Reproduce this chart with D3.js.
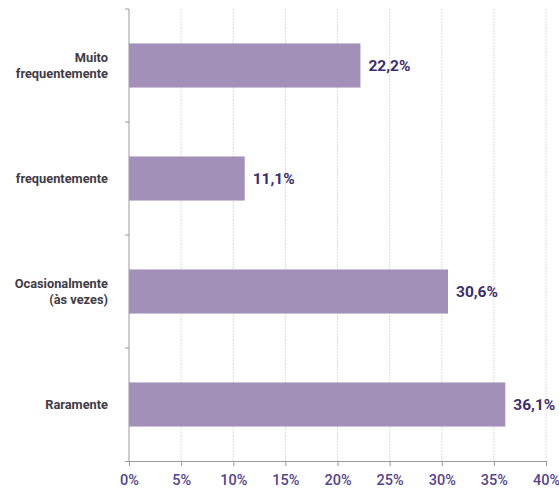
<!DOCTYPE html>
<html>
<head>
<meta charset="utf-8">
<script src="https://cdn.jsdelivr.net/npm/d3@7"></script>
<style>
  body { margin: 0; background: #fff; }
  text { font-family: Roboto, "DejaVu Sans", sans-serif; }
</style>
</head>
<body>
<svg id="chart" width="559" height="491"></svg>
<script>
const categories = [ ["Muito", "frequentemente"], ["frequentemente"], ["Ocasionalmente", "(às vezes)"], ["Raramente"] ];
const values = [ 22.2, 11.1, 30.6, 36.1 ];
const valueLabels = [ "22,2%", "11,1%", "30,6%", "36,1%" ];
const xTicks = [ 0, 5, 10, 15, 20, 25, 30, 35, 40 ];

const margin = { top: 9, left: 129, right: 12, bottom: 30 };
const width = 559, height = 491;

var svg = d3.select( "#chart" );

var x = d3.scaleLinear().domain( [0, 40] ).range( [margin.left, 546] );
var y = d3.scaleBand().domain( d3.range( categories.length ) )
          .range( [margin.top, 461] ).paddingInner( 0.61 ).paddingOuter( 0.305 );

// vertical grid lines
svg.append( "g" ).selectAll( "line" ).data( xTicks.slice(1) ).join( "line" )
   .attr( "x1", d=>x(d) ).attr( "x2", d=>x(d) )
   .attr( "y1", 9 ).attr( "y2", 461 )
   .attr( "stroke", "#dcdae2" ).attr( "stroke-width", 1 )
   .attr( "stroke-dasharray", "2,1" );

// bars
svg.append( "g" ).selectAll( "rect" ).data( values ).join( "rect" )
   .attr( "x", x(0) ).attr( "y", (d,i)=>y(i) )
   .attr( "width", d=>x(d) - x(0) ).attr( "height", y.bandwidth() )
   .attr( "fill", "#a290b9" );

// value labels
svg.append( "g" ).selectAll( "text" ).data( values ).join( "text" )
   .attr( "x", d=>x(d) + 8 ).attr( "y", (d,i)=>y(i) + y.bandwidth()/2 )
   .attr( "dy", "0.36em" )
   .attr( "font-size", 15.5 ).attr( "font-weight", "bold" ).attr( "fill", "#3e2d6b" )
   .text( (d,i)=>valueLabels[i] );

// left axis: line plus ticks at band boundaries
var step = y.step();
var yAxis = svg.append( "g" );
yAxis.append( "line" ).attr( "x1", x(0) ).attr( "x2", x(0) )
     .attr( "y1", 9 ).attr( "y2", 461 ).attr( "stroke", "#9a9a9a" );
yAxis.selectAll( "line.tick" ).data( d3.range( categories.length ) ).join( "line" )
     .attr( "class", "tick" )
     .attr( "x1", x(0) - 4 ).attr( "x2", x(0) )
     .attr( "y1", i=>9 + i*step ).attr( "y2", i=>9 + i*step )
     .attr( "stroke", "#9a9a9a" );

// category labels
var catG = svg.append( "g" ).selectAll( "text" ).data( categories ).join( "text" )
   .attr( "text-anchor", "end" ).attr( "font-size", 12.8 ).attr( "font-weight", "bold" )
   .attr( "fill", "#3f3b45" )
   .attr( "transform", (d,i)=>`translate(108,${y(i) + y.bandwidth()/2})` );
catG.selectAll( "tspan" ).data( d=>d ).join( "tspan" )
    .attr( "x", 0 )
    .attr( "y", function(d, j) {
        var n = d3.select( this.parentNode ).datum().length;
        return (j - (n-1)/2) * 16;
    } )
    .attr( "dy", "0.36em" )
    .text( d=>d );

// bottom axis
var xAxis = d3.axisBottom( x ).tickValues( xTicks ).tickFormat( d=>d + "%" ).tickSize( 5 ).tickPadding( 9 );
var xg = svg.append( "g" ).attr( "transform", "translate(0,461)" ).call( xAxis );
xg.select( ".domain" ).attr( "stroke", "#9a9a9a" ).attr( "d", `M${x(0)-4},0.5H${x(40)}` );
xg.selectAll( ".tick line" ).attr( "stroke", "#9a9a9a" );
xg.selectAll( ".tick text" ).attr( "font-size", 14.5 ).attr( "font-weight", 500 ).attr( "fill", "#55448a" )
  .attr( "font-family", "Roboto, sans-serif" );
</script>
</body>
</html>
